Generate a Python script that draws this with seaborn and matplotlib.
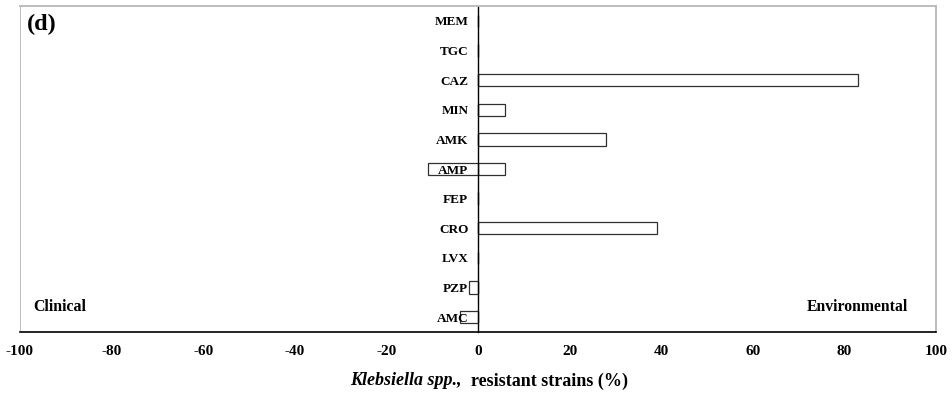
import matplotlib
matplotlib.use("Agg")
import matplotlib.pyplot as plt
import seaborn as sns
from matplotlib.offsetbox import TextArea, HPacker, AnchoredOffsetbox

# Data
drugs = ["MEM", "TGC", "CAZ", "MIN", "AMK", "AMP", "FEP", "CRO", "LVX", "PZP", "AMC"]
environmental = [0, 0, 83, 6, 28, 6, 0, 39, 0, 0, 0]
clinical = [0, 0, 0, 0, 0, -11, 0, 0, 0, -2, -4]
xticks = [-100, -80, -60, -40, -20, 0, 20, 40, 60, 80, 100]

sns.set_style("white")
plt.rcParams["font.family"] = ["Liberation Serif", "DejaVu Serif"]
plt.rcParams["font.weight"] = "bold"
plt.rcParams["text.color"] = "black"
plt.rcParams["xtick.color"] = "black"
plt.rcParams["ytick.color"] = "black"

fig = plt.figure(figsize=(9.52, 3.93), dpi=100)
ax = fig.add_axes([20 / 952, 61 / 393, 916 / 952, 326 / 393])

bar_kw = dict(orient="h", color="white", edgecolor="#303030", linewidth=0.9,
              width=0.42, saturation=1, order=drugs, ax=ax)
sns.barplot(x=environmental, y=drugs, **bar_kw)
sns.barplot(x=clinical, y=drugs, **bar_kw)

ax.set_axisbelow(False)
ax.set_xlim(-100, 100)
ax.set_ylim(10.5, -0.5)
ax.set_xticks(xticks)
ax.set_xticklabels([str(t) for t in xticks], fontsize=11, fontweight="bold")
ax.tick_params(axis="x", direction="inout", length=7, width=1, colors="black", pad=6)

# category axis sits on zero
ax.spines["left"].set_position(("data", 0))
ax.spines["left"].set_color("black")
ax.spines["left"].set_linewidth(1)
ax.tick_params(axis="y", length=0, pad=7, colors="black")
for lab in ax.get_yticklabels():
    lab.set_fontsize(9.5)
    lab.set_fontweight("bold")

ax.spines["bottom"].set_color("black")
ax.spines["bottom"].set_linewidth(1.2)
for s in ["top", "right"]:
    ax.spines[s].set_color("#b8b8b8")
    ax.spines[s].set_linewidth(1.3)
ax.axvline(-100, color="#b8b8b8", lw=1.3, zorder=0)

ax.set_xlabel("")
ax.set_ylabel("")

ax.text(0.008, 0.975, "(d)", transform=ax.transAxes, fontsize=17.5,
        fontweight="bold", ha="left", va="top")
ax.text(0.014, 0.077, "Clinical", transform=ax.transAxes, fontsize=11.4,
        fontweight="bold", ha="left", va="center")
ax.text(0.97, 0.077, "Environmental", transform=ax.transAxes, fontsize=11.3,
        fontweight="bold", ha="right", va="center")

# x label: italic genus + plain bold text
part1 = TextArea("Klebsiella spp.,", textprops=dict(fontsize=13, fontweight="bold", fontstyle="italic"))
part2 = TextArea("  resistant strains (%)", textprops=dict(fontsize=13, fontweight="bold"))
box = HPacker(children=[part1, part2], pad=0, sep=0, align="baseline")
anch = AnchoredOffsetbox(loc="center", child=box, frameon=False, pad=0, borderpad=0,
                         bbox_to_anchor=(0.512, -0.150), bbox_transform=ax.transAxes)
ax.add_artist(anch)

fig.savefig("out.png", dpi=100)
